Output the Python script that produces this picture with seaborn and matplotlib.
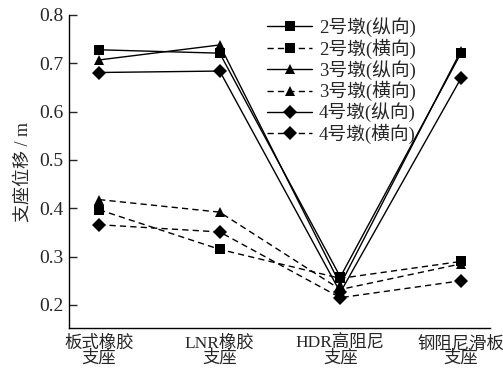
import numpy as np
import pandas as pd
import matplotlib
matplotlib.use("Agg")
import matplotlib.pyplot as plt
import matplotlib.transforms as mtransforms
import seaborn as sns

sns.set_style("ticks")
plt.rcParams['font.family'] = ['Liberation Serif', 'Noto Sans CJK SC']
plt.rcParams['axes.unicode_minus'] = False

categories = ["板式橡胶\n支座", "LNR橡胶\n支座", "HDR高阻尼\n支座", "钢阻尼滑板\n支座"]
series_names = ["2号墩(纵向)", "2号墩(横向)", "3号墩(纵向)", "3号墩(横向)", "4号墩(纵向)", "4号墩(横向)"]
pier2_long = [0.728, 0.721, 0.258, 0.721]
pier2_trans = [0.397, 0.315, 0.255, 0.290]
pier3_long = [0.707, 0.738, 0.242, 0.726]
pier3_trans = [0.418, 0.392, 0.232, 0.285]
pier4_long = [0.681, 0.684, 0.226, 0.669]
pier4_trans = [0.366, 0.351, 0.215, 0.250]
yticks = [0.2, 0.3, 0.4, 0.5, 0.6, 0.7, 0.8]

values = [pier2_long, pier2_trans, pier3_long, pier3_trans, pier4_long, pier4_trans]
rows = []
for name, vals in zip(series_names, values):
    for i, v in enumerate(vals):
        rows.append({"支座类型": i, "支座位移": v, "工况": name})
df = pd.DataFrame(rows)

marker_map = {n: m for n, m in zip(series_names, ["s", "s", "^", "^", "D", "D"])}
dash_map = {n: (d if d else "") for n, d in zip(series_names, [None, (4.5, 3), None, (4.5, 3), None, (4.5, 3)])}
palette = {n: "black" for n in series_names}

fig = plt.figure(figsize=(5.03, 3.75), dpi=100)
ax = fig.add_axes([0.137, 0.125, 0.837, 0.835])

sns.lineplot(data=df, x="支座类型", y="支座位移", hue="工况", style="工况",
             markers=marker_map, dashes=dash_map, palette=palette,
             hue_order=series_names, style_order=series_names,
             linewidth=1.0, markersize=7, markeredgewidth=0,
             sort=False, ax=ax)

ax.set_xlim(-0.25, 3.24)
ax.set_ylim(0.152, 0.8)
ax.set_xticks(range(len(categories)))
ax.set_xticklabels(categories, fontsize=12.5, linespacing=0.9)
# nudge category labels slightly left so the last one stays inside the figure
shift = mtransforms.ScaledTranslation(-5 / 100, 0, fig.dpi_scale_trans)
for lbl in ax.get_xticklabels():
    lbl.set_transform(lbl.get_transform() + shift)
ax.set_yticks(yticks)
ax.set_yticklabels([f"{t:.1f}" for t in yticks], fontsize=14)
ax.tick_params(axis="y", direction="in", length=6, width=1, pad=4)
ax.tick_params(axis="x", length=0, pad=5)
ax.set_xlabel("")
ax.set_ylabel("支座位移 / m", fontsize=13, labelpad=5)

for side in ["top", "right"]:
    ax.spines[side].set_visible(False)
for side in ["left", "bottom"]:
    ax.spines[side].set_linewidth(1.0)
    ax.spines[side].set_color("black")

handles, labels = ax.get_legend_handles_labels()
ax.legend(handles, labels, loc="upper left", bbox_to_anchor=(0.44, 1.035),
          frameon=False, fontsize=13.5, handlelength=2.4, handletextpad=0.35,
          labelspacing=0.07, borderpad=0.2)

fig.savefig("out.png", dpi=100)
